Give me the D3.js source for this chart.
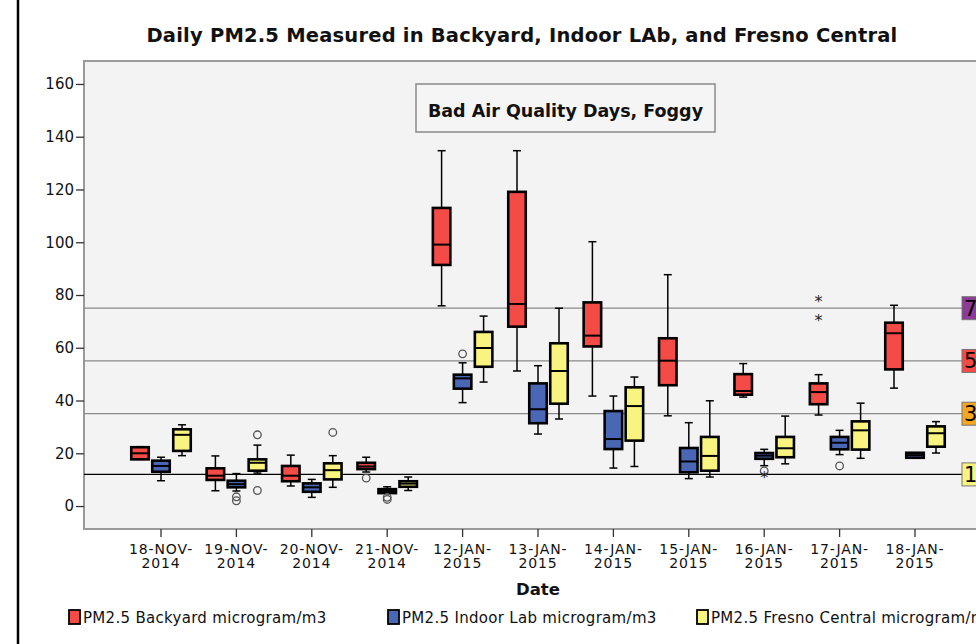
<!DOCTYPE html>
<html>
<head>
<meta charset="utf-8">
<script src="https://cdn.jsdelivr.net/npm/d3@7"></script>
<style>
  html, body { margin: 0; padding: 0; background: #fff; }
  svg { display: block; }
</style>
</head>
<body>
<div id="chart"></div>
<script>
// categories
const dates = ['18-NOV-2014', '19-NOV-2014', '20-NOV-2014', '21-NOV-2014', '12-JAN-2015',
  '13-JAN-2015', '14-JAN-2015', '15-JAN-2015', '16-JAN-2015', '17-JAN-2015', '18-JAN-2015'];

const seriesNames = ['PM2.5 Backyard microgram/m3', 'PM2.5 Indoor Lab microgram/m3', 'PM2.5 Fresno Central microgram/m3'];

// [whisker low, Q1, median, Q3, whisker high] per date
const backyard = [
  [17.7, 17.7, 20.0, 22.3, 22.5], [5.8, 9.9, 11.5, 14.3, 19.0], [7.6, 9.4, 11.5, 15.2, 19.3],
  [12.9, 14.0, 15.0, 16.4, 18.5], [75.9, 91.4, 99.1, 113.0, 134.7], [51.2, 68.0, 76.6, 119.1, 134.7],
  [41.7, 60.5, 64.6, 77.2, 100.2], [34.2, 45.8, 55.1, 63.6, 87.7], [41.3, 42.2, 43.6, 50.0, 54.0],
  [34.5, 38.6, 43.2, 46.5, 49.8], [44.7, 51.8, 65.5, 69.5, 76.1]
];
const indoor = [
  [9.6, 13.0, 15.2, 17.2, 18.5], [5.7, 7.1, 8.3, 9.6, 12.3], [3.3, 5.4, 7.1, 8.6, 10.1],
  [4.9, 4.9, 5.7, 6.4, 7.3], [39.2, 44.5, 48.4, 49.8, 54.3], [27.3, 31.4, 36.7, 46.5, 53.2],
  [14.4, 21.6, 25.4, 36.0, 41.7], [10.4, 12.8, 16.9, 22.0, 31.6], [15.3, 17.9, 19.1, 20.1, 21.5],
  [19.5, 21.5, 24.0, 26.2, 28.7], [18.3, 18.3, 19.3, 20.2, 20.2]
];
const fresno = [
  [19.1, 20.9, 27.0, 29.1, 30.8], [12.5, 13.4, 16.4, 17.7, 23.1], [7.1, 10.1, 13.6, 16.2, 19.1],
  [5.9, 7.3, 8.5, 9.4, 11.0], [47.0, 52.8, 59.9, 66.0, 72.0], [33.0, 38.8, 51.2, 61.7, 75.0],
  [15.0, 24.8, 37.9, 45.0, 48.9], [11.0, 13.4, 19.0, 26.2, 39.9], [16.0, 18.5, 21.9, 26.2, 34.1],
  [18.1, 21.4, 28.7, 32.1, 39.0], [20.1, 22.5, 27.6, 30.2, 32.0]
];

// outliers: [series index, date, value, kind]
const outliers = [
  [1, '19-NOV-2014', 3.5, 'o'], [1, '19-NOV-2014', 2.0, 'o'],
  [2, '19-NOV-2014', 27.0, 'o'], [2, '19-NOV-2014', 5.9, 'o'],
  [2, '20-NOV-2014', 27.9, 'o'],
  [0, '21-NOV-2014', 10.6, 'o'], [1, '21-NOV-2014', 3.3, 'o'], [1, '21-NOV-2014', 2.5, 'o'],
  [1, '12-JAN-2015', 57.7, 'o'],
  [1, '16-JAN-2015', 13.3, 'o'], [1, '16-JAN-2015', 11.5, '*'],
  [0, '17-JAN-2015', 78.1, '*'], [0, '17-JAN-2015', 70.8, '*'],
  [1, '17-JAN-2015', 15.2, 'o']
];

const yTicks = [0, 20, 40, 60, 80, 100, 120, 140, 160];
const refLines = [12, 35, 55, 75];
const title = 'Daily PM2.5 Measured in Backyard, Indoor LAb, and Fresno Central';
const note = 'Bad Air Quality Days, Foggy';

const W = 976, H = 644;
const COL = {
  series: ['#f44b47', '#4a67b5', '#f8f47f'],
  ref: { 12: '#f8f47f', 35: '#f5a623', 55: '#f44b47', 75: '#8e3b97' },
  plotBg: '#f3f3f3',
  frame: '#9a9a9a',
  text: '#111'
};
const FONT = "'DejaVu Sans', sans-serif";

const svg = d3.select('#chart').append('svg')
  .attr('width', W).attr('height', H)
  .attr('viewBox', `0 0 ${W} ${H}`);

const plot = { left: 84, right: 992, top: 61, bottom: 529 };

const y = d3.scaleLinear().domain([-8.7, 168.7]).range([plot.bottom, plot.top]);
const x = d3.scaleBand().domain(dates).range([123.3, 952.7]);
const xs = d3.scaleBand().domain([0, 1, 2]).range([-31.5, 31.5]);
const boxW = 17.5, capW = 8;

// figure border on the left
svg.append('line').attr('x1', 18).attr('x2', 18).attr('y1', 0).attr('y2', H)
  .attr('stroke', '#000').attr('stroke-width', 2.5);

// title
svg.append('text').text(title)
  .attr('x', 522).attr('y', 42)
  .attr('text-anchor', 'middle')
  .attr('font-family', FONT).attr('font-weight', 'bold').attr('font-size', 19.5)
  .attr('letter-spacing', 0.2)
  .attr('fill', COL.text);

// plot background
svg.append('rect')
  .attr('x', plot.left).attr('y', plot.top)
  .attr('width', plot.right - plot.left).attr('height', plot.bottom - plot.top)
  .attr('fill', COL.plotBg).attr('stroke', COL.frame).attr('stroke-width', 2);

// reference lines
refLines.forEach(v => {
  svg.append('line')
    .attr('x1', plot.left).attr('x2', 962)
    .attr('y1', y(v)).attr('y2', y(v))
    .attr('stroke', v === 12 ? '#000' : '#8a8a8a')
    .attr('stroke-width', 1.3);
  svg.append('rect')
    .attr('x', 962).attr('y', y(v) - 11.5)
    .attr('width', 40).attr('height', 23)
    .attr('fill', COL.ref[v]).attr('stroke', '#777').attr('stroke-width', 1);
  svg.append('text').text(v)
    .attr('x', 964).attr('y', y(v) + 7.5)
    .attr('font-family', FONT).attr('font-size', 21)
    .attr('fill', '#000');
});

// y axis
const yAxis = d3.axisLeft(y).tickValues(yTicks).tickSize(8).tickPadding(2);
const yG = svg.append('g').attr('transform', `translate(${plot.left},0)`).call(yAxis);
yG.select('.domain').remove();
yG.selectAll('line').attr('stroke', '#333').attr('stroke-width', 1.3);
yG.selectAll('text').attr('font-family', FONT).attr('font-size', 15).attr('fill', COL.text);

// x axis
const xAxis = d3.axisBottom(x).tickSize(8).tickFormat('');
const xG = svg.append('g').attr('transform', `translate(0,${plot.bottom})`).call(xAxis);
xG.select('.domain').remove();
xG.selectAll('line').attr('stroke', '#333').attr('stroke-width', 1.3);
xG.selectAll('.tick').each(function (d) {
  const parts = d.split('-');
  const t = d3.select(this).append('text')
    .attr('text-anchor', 'middle')
    .attr('font-family', FONT).attr('font-size', 14)
    .attr('letter-spacing', 0.9)
    .attr('fill', COL.text);
  t.append('tspan').attr('x', 0).attr('y', 25).text(parts[0] + '-' + parts[1] + '-');
  t.append('tspan').attr('x', 0).attr('y', 39).text(parts[2]);
});

svg.append('text').text('Date')
  .attr('x', 538).attr('y', 595)
  .attr('text-anchor', 'middle')
  .attr('font-family', FONT).attr('font-weight', 'bold').attr('font-size', 16.5)
  .attr('fill', COL.text);

// annotation box
svg.append('rect')
  .attr('x', 416).attr('y', 84).attr('width', 299).attr('height', 48)
  .attr('fill', '#f5f5f5').attr('stroke', '#8a8a8a').attr('stroke-width', 1.5);
svg.append('text').text(note)
  .attr('x', 565.5).attr('y', 117)
  .attr('text-anchor', 'middle')
  .attr('font-family', FONT).attr('font-weight', 'bold').attr('font-size', 17.5)
  .attr('fill', COL.text);

// boxes
const allSeries = [backyard, indoor, fresno];
allSeries.forEach((data, si) => {
  const g = svg.append('g');
  data.forEach((s, i) => {
    const cx = x(dates[i]) + x.bandwidth() / 2 + xs(si) + xs.bandwidth() / 2;
    const [lo, q1, med, q3, hi] = s;
    const bg = g.append('g');
    // whiskers
    bg.append('line').attr('x1', cx).attr('x2', cx).attr('y1', y(hi)).attr('y2', y(lo))
      .attr('stroke', '#000').attr('stroke-width', 1.5);
    [lo, hi].forEach(v => {
      bg.append('line').attr('x1', cx - capW / 2).attr('x2', cx + capW / 2)
        .attr('y1', y(v)).attr('y2', y(v))
        .attr('stroke', '#000').attr('stroke-width', 1.5);
    });
    // box
    bg.append('rect')
      .attr('x', cx - boxW / 2).attr('y', y(q3))
      .attr('width', boxW).attr('height', Math.max(1, y(q1) - y(q3)))
      .attr('fill', COL.series[si])
      .attr('stroke', '#000').attr('stroke-width', 2.6);
    bg.append('line').attr('x1', cx - boxW / 2).attr('x2', cx + boxW / 2)
      .attr('y1', y(med)).attr('y2', y(med))
      .attr('stroke', '#000').attr('stroke-width', 2);
  });
});

// outliers
outliers.forEach(([si, d, v, kind]) => {
  const cx = x(d) + x.bandwidth() / 2 + xs(si) + xs.bandwidth() / 2;
  if (kind === 'o') {
    svg.append('circle').attr('cx', cx).attr('cy', y(v)).attr('r', 3.8)
      .attr('fill', 'none').attr('stroke', '#555').attr('stroke-width', 1.3);
  } else {
    svg.append('text').text('*')
      .attr('x', cx).attr('y', y(v) + 7)
      .attr('text-anchor', 'middle')
      .attr('font-family', FONT).attr('font-size', 16)
      .attr('fill', '#222');
  }
});

// legend
const legX = [69, 388, 697];
seriesNames.forEach((name, i) => {
  svg.append('rect')
    .attr('x', legX[i]).attr('y', 610).attr('width', 11).attr('height', 14)
    .attr('fill', COL.series[i]).attr('stroke', '#000').attr('stroke-width', 1.8);
  svg.append('text').text(name)
    .attr('x', legX[i] + 14).attr('y', 623)
    .attr('font-family', FONT).attr('font-size', 15)
    .attr('letter-spacing', 0.3)
    .attr('fill', COL.text);
});
</script>
</body>
</html>
